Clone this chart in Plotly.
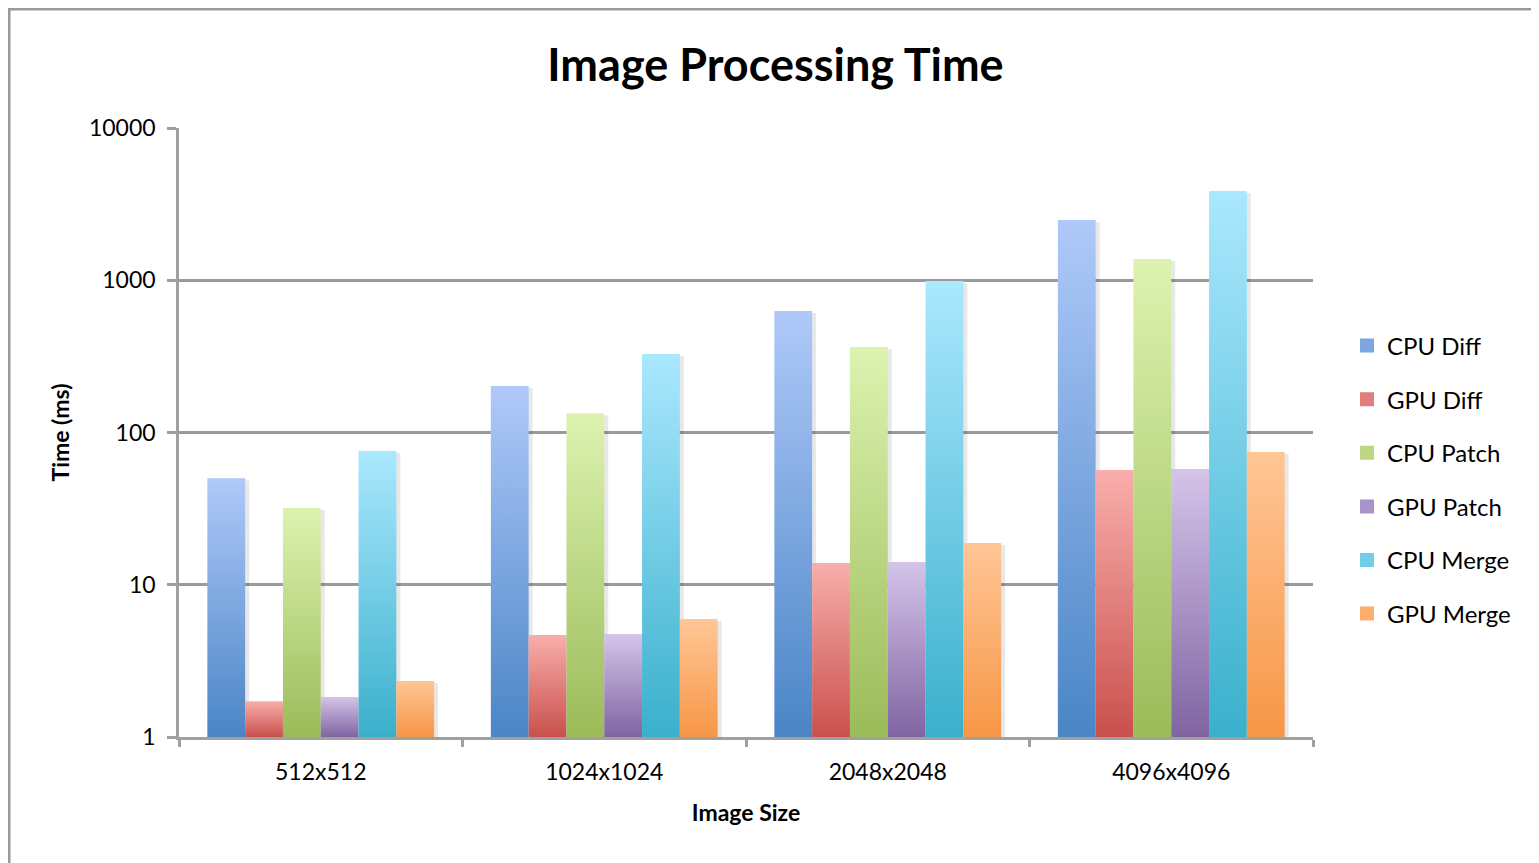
import plotly.graph_objects as go

categories = ["512x512", "1024x1024", "2048x2048", "4096x4096"]
series_names = ["CPU Diff", "GPU Diff", "CPU Patch", "GPU Patch", "CPU Merge", "GPU Merge"]
cpu_diff = [50, 202, 628, 2490]
gpu_diff = [1.72, 4.68, 13.9, 56.7]
cpu_patch = [31.9, 134, 364, 1380]
gpu_patch = [1.83, 4.75, 14.1, 57.6]
cpu_merge = [75.6, 328, 989, 3860]
gpu_merge = [2.33, 5.96, 18.8, 74.5]
series_values = [cpu_diff, gpu_diff, cpu_patch, gpu_patch, cpu_merge, gpu_merge]
y_tickvals = [1, 10, 100, 1000, 10000]
y_ticktext = ["1", "10", "100", "1000", "10000"]

# (top colour, bottom colour, legend colour)
colors = [
    ("#AFC9F9", "#4A85C6", "#7DA6E0"),
    ("#F9AEAB", "#C9504C", "#E07F7B"),
    ("#DCF3B0", "#9BBB59", "#BCD886"),
    ("#D4C4E9", "#8064A2", "#A993C8"),
    ("#AAE8FE", "#3AB0CC", "#72CDE6"),
    ("#FFC696", "#F79646", "#FBAE6E"),
]

OFF = 8  # page body margin
W, H = 1539 - OFF, 863 - OFF
L, R, T, B = 179 - OFF, 1313 - OFF, 128 - OFF, 737 - OFF
group_px = (R - L) / len(categories)
px = 1.0 / group_px  # one pixel in x data units
ymin = 1

n = len(series_names)
gap = 0.1
bw = (1 - 2 * gap) / n

fig = go.Figure()

# shadows
for s, vals in enumerate(series_values):
    for i, v in enumerate(vals):
        x0 = i + gap + s * bw + 3 * px
        x1 = x0 + bw + 1 * px
        top = v / (10 ** (2 / 152.25))
        fig.add_trace(go.Scatter(
            x=[x0, x0, x1, x1, x0], y=[ymin, top, top, ymin, ymin],
            mode="none", fill="toself", fillcolor="rgba(0,0,0,0.09)",
            showlegend=False, hoverinfo="skip"))

# gradient bars
for s, vals in enumerate(series_values):
    top_c, bot_c, _ = colors[s]
    for i, v in enumerate(vals):
        x0 = i + gap + s * bw
        x1 = x0 + bw
        fig.add_trace(go.Scatter(
            x=[x0, x0, x1, x1, x0], y=[ymin, v, v, ymin, ymin],
            mode="none", fill="toself",
            fillgradient=dict(type="vertical", colorscale=[[0, bot_c], [1, top_c]]),
            showlegend=False, name=series_names[s],
            hovertemplate=f"{series_names[s]}<br>{categories[i]}: {v}<extra></extra>"))

# legend entries
for s, name in enumerate(series_names):
    fig.add_trace(go.Bar(x=[None], y=[None], name=name,
                         marker=dict(color=colors[s][2], line=dict(color=colors[s][2], width=2)),
                         legendgroup=name, showlegend=True))

fig.update_layout(
    width=W, height=H,
    margin=dict(l=L, r=W - R, t=T, b=H - B),
    paper_bgcolor="white", plot_bgcolor="white",
    font=dict(family="Lato, sans-serif", color="black", size=23),
    title=dict(text="<b>Image Processing Time</b>", x=(775.5 - OFF) / W, xref="container",
               xanchor="center", y=1 - (65 - OFF) / H, yref="container", yanchor="middle",
               font=dict(size=45, family="Lato, sans-serif", color="black")),
    showlegend=True,
    legend=dict(x=(1347 - 179) / (1313 - 179), xanchor="left",
                y=(737 - 480) / (737 - 128), yanchor="middle",
                font=dict(size=24), tracegroupgap=19.4, itemwidth=30,
                bgcolor="rgba(0,0,0,0)"),
    xaxis=dict(range=[0, len(categories)], tickvals=[i + 0.5 for i in range(len(categories))],
               ticktext=categories, ticks="", showgrid=False, zeroline=False,
               showline=True, linecolor="#a0a0a0", linewidth=2.5,
               tickfont=dict(size=23), ticklabelstandoff=13,
               minor=dict(tickvals=list(range(len(categories) + 1)), ticks="outside",
                          ticklen=7, tickwidth=2.5, tickcolor="#a0a0a0", showgrid=False),
               title=dict(text="<b>Image Size</b>", font=dict(size=23), standoff=21),
               fixedrange=True),
    yaxis=dict(type="log", range=[0, 4], tickvals=y_tickvals, ticktext=y_ticktext,
               ticks="outside", ticklen=9, tickwidth=2.5, tickcolor="#a0a0a0",
               showline=True, linecolor="#a0a0a0", linewidth=2.5,
               showgrid=True, gridcolor="#9a9a9a", gridwidth=2.5, zeroline=False,
               tickfont=dict(size=23), ticklabelstandoff=7,
               title=dict(text="<b>Time (ms)</b>", font=dict(size=23), standoff=13),
               fixedrange=True),
)

# outer chart border
fig.add_shape(type="rect", xref="paper", yref="paper",
              x0=(1 - L) / (R - L), x1=(W + 30 - L) / (R - L),
              y0=(B - H - 30) / (B - T), y1=(B - 1) / (B - T),
              line=dict(color="#9a9a9a", width=3), fillcolor="rgba(0,0,0,0)", layer="below")

fig.write_html("out.html")
